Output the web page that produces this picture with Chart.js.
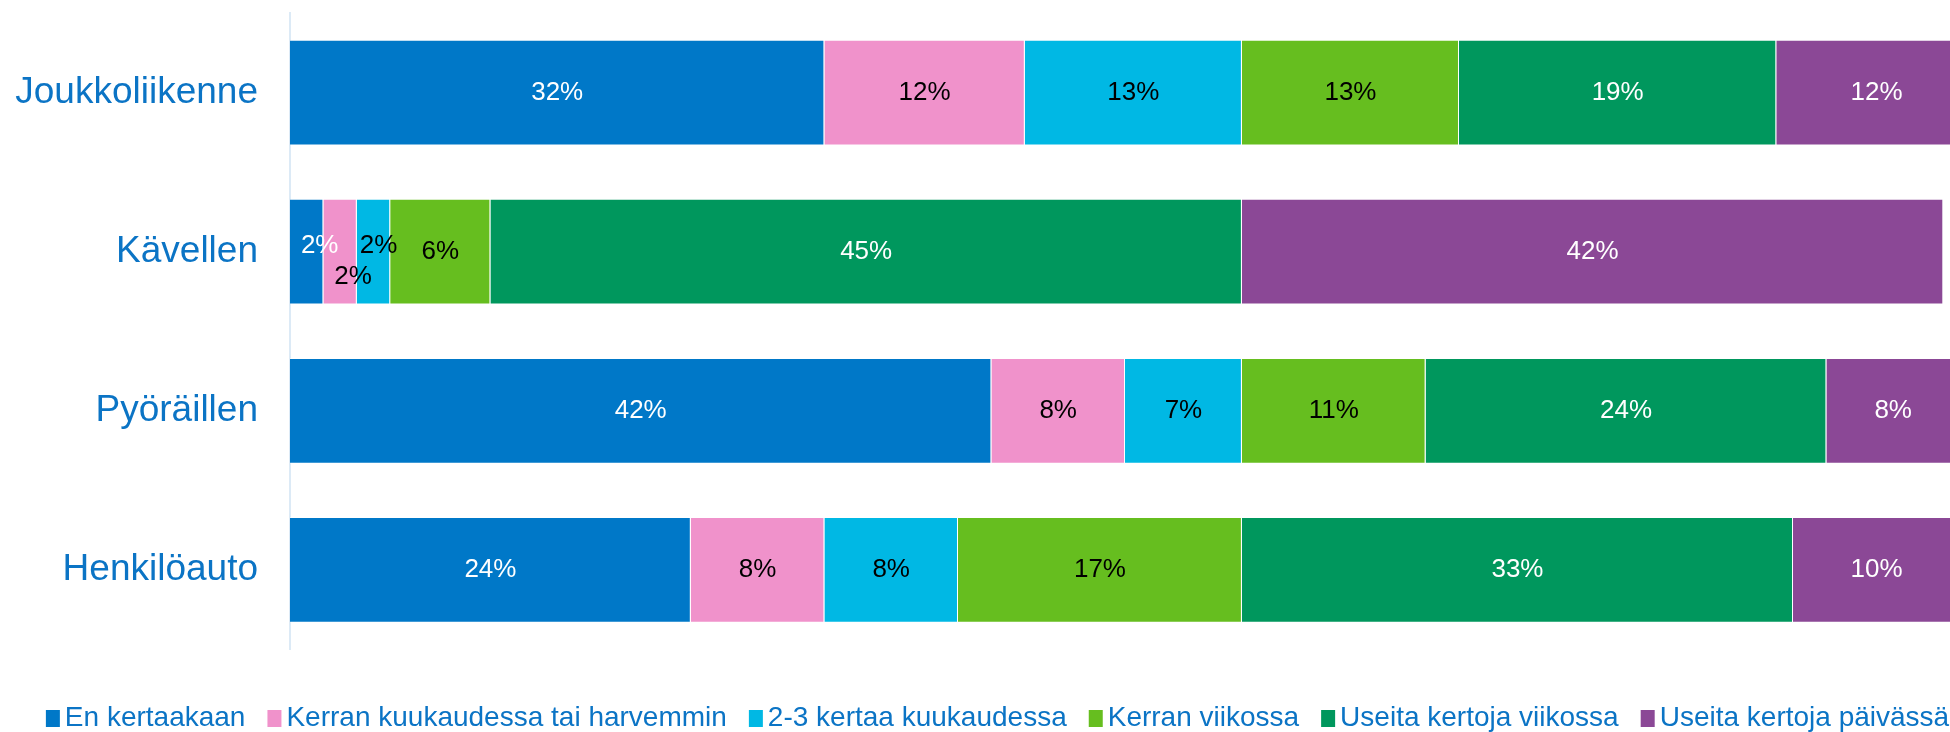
<!DOCTYPE html>
<html lang="fi">
<head>
<meta charset="utf-8">
<title>Liikkumistavat</title>
<script src="https://cdn.jsdelivr.net/npm/chart.js@4.4.1/dist/chart.umd.min.js"></script>
<style>
	html, body { margin: 0; padding: 0; background: #fff; overflow: hidden; }
	#wrap { position: relative; width: 1995px; height: 742px; }
</style>
</head>
<body>
<div id="wrap"><canvas id="barChart"></canvas></div>
<script>
// Categories (y axis) and series names (legend)
const categories = ['Joukkoliikenne', 'Kävellen', 'Pyöräillen', 'Henkilöauto'];
const seriesNames = [
	'En kertaakaan',
	'Kerran kuukaudessa tai harvemmin',
	'2-3 kertaa kuukaudessa',
	'Kerran viikossa',
	'Useita kertoja viikossa',
	'Useita kertoja päivässä'
];

// Values in % per category
const enKertaakaan = [32, 2, 42, 24];
const kerranKuukaudessa = [12, 2, 8, 8];
const kertaaKuukaudessa = [13, 2, 7, 8];
const kerranViikossa = [13, 6, 11, 17];
const useitaViikossa = [19, 45, 24, 33];
const useitaPaivassa = [12, 42, 8, 10];

const seriesValues = [enKertaakaan, kerranKuukaudessa, kertaaKuukaudessa, kerranViikossa, useitaViikossa, useitaPaivassa];
const barColors = ['#0078C8', '#F092CB', '#00B8E4', '#66BE1F', '#00975D', '#8B4896'];
const labelColors = ['#fff', '#000', '#000', '#000', '#fff', '#fff'];
const textBlue = '#0B74C5';
const font = "'Liberation Sans', Arial, sans-serif";

// hand-moved labels in the narrow Kävellen segments: 'dataset-category': [dx, dy]
const labelNudge = { '0-1': [13, -6], '1-1': [13, 25], '2-1': [5, -6] };

// legend marker: small square sitting close to its text
function legendMarker(color) {
	const c = document.createElement('canvas');
	c.width = 33;
	c.height = 17;
	const g = c.getContext('2d');
	g.fillStyle = color;
	g.fillRect(14, 0, 14, 17);
	return c;
}

// draws the % values in the middle of each segment
const segmentLabels = {
	id: 'segmentLabels',
	afterDatasetsDraw(chart) {
		const ctx = chart.ctx;
		ctx.save();
		ctx.font = '26px ' + font;
		ctx.textAlign = 'center';
		ctx.textBaseline = 'middle';
		chart.data.datasets.forEach((ds, di) => {
			chart.getDatasetMeta(di).data.forEach((el, i) => {
				const nudge = labelNudge[di + '-' + i] || [0, 0];
				const x = (el.x + el.base) / 2 + nudge[0];
				ctx.fillStyle = labelColors[di];
				ctx.fillText(ds.data[i] + '%', x, el.y + nudge[1]);
			});
		});
		ctx.restore();
	}
};

const datasets = seriesNames.map((name, i) => ({
	label: name,
	data: seriesValues[i],
	backgroundColor: barColors[i],
	borderColor: 'rgba(255,255,255,0.45)',
	borderWidth: 1,
	categoryPercentage: 1,
	barPercentage: 0.664
}));

new Chart(document.getElementById('barChart'), {
	type: 'bar',
	data: { labels: categories, datasets },
	plugins: [segmentLabels],
	options: {
		indexAxis: 'y',
		responsive: true,
		maintainAspectRatio: false,
		animation: false,
		layout: { padding: { left: 0, right: 0, top: 13, bottom: 0 } },
		scales: {
			x: {
				stacked: true,
				min: 0,
				max: 100,
				ticks: { display: false },
				grid: { display: false },
				border: { display: false },
				afterFit: s => { s.height = 32.5; }
			},
			y: {
				stacked: true,
				grid: { display: false },
				border: { display: true, color: '#DCEAF6', width: 2 },
				ticks: { color: textBlue, font: { family: font, size: 37 }, padding: 24 },
				afterFit: s => { s.width = 290; s.paddingTop = 0; s.paddingBottom = 0; }
			},
			// empty strip on the right: the plot runs a bit past the picture edge
			yRight: {
				type: 'category',
				axis: 'y',
				position: 'right',
				ticks: { display: false },
				grid: { display: false },
				border: { display: false },
				afterFit: s => { s.width = 35; }
			}
		},
		plugins: {
			tooltip: { enabled: false },
			legend: {
				position: 'bottom',
				labels: {
					color: textBlue,
					font: { family: font, size: 28 },
					usePointStyle: true,
					boxWidth: 5,
					boxHeight: 17,
					padding: 22,
					generateLabels: chart => Chart.defaults.plugins.legend.labels.generateLabels(chart)
						.map((l, i) => Object.assign(l, { lineWidth: 0, pointStyle: legendMarker(barColors[i]) }))
				}
			}
		}
	}
});
</script>
</body>
</html>
